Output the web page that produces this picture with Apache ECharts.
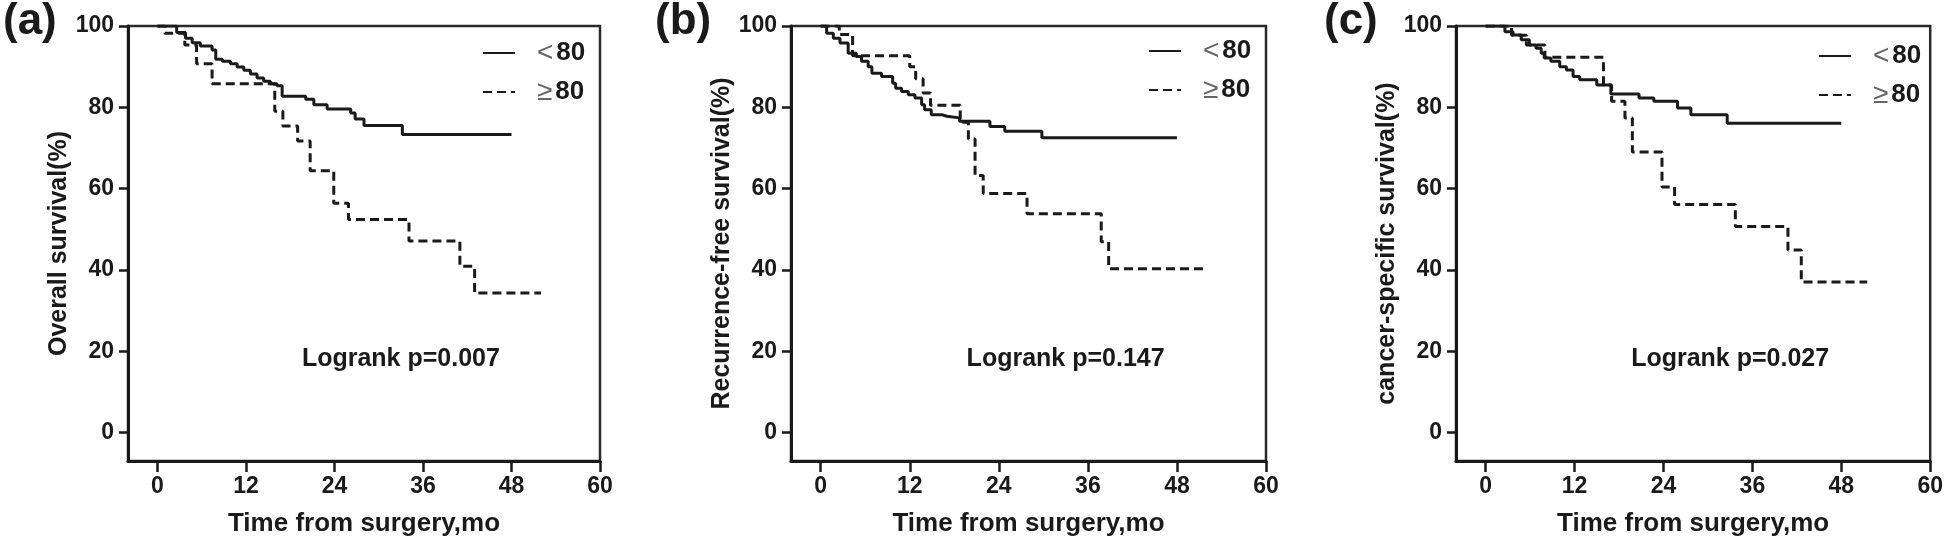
<!DOCTYPE html>
<html>
<head>
<meta charset="utf-8">
<script src="https://cdn.jsdelivr.net/npm/echarts@6/dist/echarts.min.js"></script>
<style>html,body{margin:0;padding:0;background:#fff;}#c{width:1946px;height:546px;}</style>
</head>
<body>
<div id="c"></div>
<script>
// ---- tick labels ----
const xTicks = [0, 12, 24, 36, 48, 60];
const yTicks = [0, 20, 40, 60, 80, 100];
const groupNames = ['<80', '≥80'];
const panelLabels = ['(a)', '(b)', '(c)'];
const yTitles = ['Overall survival(%)', 'Recurrence-free survival(%)', 'cancer-specific survival(%)'];
const xTitle = 'Time from surgery,mo';
const pTexts = ['Logrank p=0.007', 'Logrank p=0.147', 'Logrank p=0.027'];

// ---- (a) overall survival ----
const aLowT = [0, 2.6, 3.8, 4.7, 5.8, 7.4, 7.9, 8.8, 9.9, 10.8, 11.7, 12.6, 13.5, 14.4, 15.3, 16.2, 16.9, 20.1, 21.2, 23.0, 26.2, 26.8, 28.0, 33.2, 48.0];
const aLowS = [100, 98.4, 97.0, 95.9, 95.1, 94.1, 91.8, 91.3, 90.7, 89.9, 89.1, 88.2, 87.2, 86.4, 85.8, 85.3, 82.7, 82.0, 80.6, 79.6, 78.6, 77.1, 75.5, 73.3, 73.3];
const aHighT = [0, 1.0, 3.7, 5.3, 7.4, 15.9, 17.0, 19.0, 20.7, 23.9, 25.9, 34.1, 41.0, 43.0, 52.0];
const aHighS = [100, 98.2, 95.3, 90.7, 85.8, 79.0, 75.4, 71.7, 64.4, 56.4, 52.4, 47.1, 40.9, 34.3, 34.3];

// ---- (b) recurrence-free survival ----
const bLowT = [0, 0.8, 1.7, 2.6, 3.7, 4.8, 5.5, 6.4, 6.9, 8.2, 9.7, 10.1, 10.9, 11.8, 12.7, 13.6, 14.0, 14.9, 16.3, 17.0, 18.7, 22.8, 24.8, 29.8, 48.0];
const bLowS = [100, 98.2, 97.0, 95.8, 93.3, 92.5, 91.3, 90.0, 88.4, 87.6, 85.9, 84.7, 83.9, 83.1, 82.3, 80.6, 79.4, 78.2, 77.8, 77.4, 76.6, 75.3, 74.1, 72.5, 72.5];
const bHighT = [0, 2.5, 4.3, 12.0, 12.8, 13.8, 14.8, 18.8, 19.9, 20.8, 21.9, 27.8, 37.8, 38.8, 51.7];
const bHighS = [100, 97.9, 92.7, 90.0, 87.0, 83.5, 80.5, 76.3, 72.2, 63.2, 58.8, 53.8, 46.9, 40.3, 40.3];

// ---- (c) cancer-specific survival ----
const cLowT = [0, 2.6, 3.7, 4.8, 5.9, 6.8, 7.5, 7.9, 8.8, 10.0, 10.9, 11.8, 12.7, 15.0, 16.9, 20.7, 22.7, 25.9, 27.7, 32.6, 48.0];
const cLowS = [100, 98.6, 97.8, 96.6, 95.3, 94.5, 93.3, 92.1, 91.3, 90.0, 89.2, 87.6, 86.8, 85.5, 83.3, 82.3, 81.5, 79.8, 78.2, 76.1, 76.1];
const cHighT = [0, 3.5, 5.5, 8.0, 15.9, 17.0, 18.8, 19.8, 23.8, 25.5, 33.7, 40.8, 42.6, 51.5];
const cHighS = [100, 97.7, 95.3, 92.3, 85.5, 81.5, 77.4, 69.0, 60.4, 56.1, 50.7, 44.9, 37.0, 37.0];

const panels = [
  [aLowT, aLowS, aHighT, aHighS],
  [bLowT, bLowS, bHighT, bHighS],
  [cLowT, cLowS, cHighT, cHighS]
];

// ---- layout / style ----
const FONT = '"Liberation Sans", Arial, sans-serif';
const INK = '#1a1a1a';
const grids = [
  { left: 128, top: 26, width: 472, height: 435 },
  { left: 791, top: 26, width: 475, height: 435 },
  { left: 1456, top: 26, width: 476, height: 435 }
];
const legendPos = [
  { left: 477, top: 34 },
  { left: 1143, top: 32 },
  { left: 1813, top: 37 }
];
const labelPos = [[3, 0], [655, 0], [1324, 0]];

function zip(t, s) { return t.map((v, i) => [v, s[i]]); }

const option = {
  animation: false,
  backgroundColor: '#fff',
  grid: grids.map(g => Object.assign({ show: true, borderColor: '#2a2a2a', borderWidth: 2.5, backgroundColor: 'transparent' }, g)),
  xAxis: grids.map((g, i) => ({
    type: 'value', gridIndex: i, min: -4, max: 60,
    axisLine: { show: true, onZero: false, lineStyle: { color: INK, width: 3 } },
    axisTick: { show: true, customValues: xTicks, length: 11, lineStyle: { color: INK, width: 2.5 } },
    axisLabel: { customValues: xTicks, color: INK, fontSize: 23, fontWeight: 'bold', fontFamily: FONT, margin: 14 },
    splitLine: { show: false },
    name: xTitle, nameLocation: 'middle', nameGap: 50,
    nameTextStyle: { color: INK, fontSize: 26, fontWeight: 'bold', fontFamily: FONT }
  })),
  yAxis: grids.map((g, i) => ({
    type: 'value', gridIndex: i, min: -7, max: 100,
    axisLine: { show: true, onZero: false, lineStyle: { color: INK, width: 3 } },
    axisTick: { show: true, customValues: yTicks, length: 9, lineStyle: { color: INK, width: 2.5 } },
    axisLabel: { customValues: yTicks, color: INK, fontSize: 23, fontWeight: 'bold', fontFamily: FONT, margin: 14 },
    splitLine: { show: false },
    name: yTitles[i], nameLocation: 'middle', nameGap: 56,
    nameTextStyle: { color: INK, fontSize: 25, fontWeight: 'bold', fontFamily: FONT }
  })),
  legend: legendPos.map(p => ({
    left: p.left, top: p.top, orient: 'vertical',
    data: groupNames, itemWidth: 32, itemHeight: 14, itemGap: 11,
    selectedMode: false,
    itemStyle: { opacity: 0 },
    formatter: name => '{s|' + name.charAt(0) + '}{n|' + name.slice(1) + '}',
    textStyle: {
      rich: {
        s: { fontSize: 28, color: '#666', fontFamily: FONT, padding: [0, 3, 0, 17], lineHeight: 30 },
        n: { fontSize: 26, fontWeight: 'bold', color: INK, fontFamily: FONT, lineHeight: 30 }
      }
    }
  })),
  series: []
};

panels.forEach((p, i) => {
  option.series.push({
    name: groupNames[0], type: 'line', step: 'end', xAxisIndex: i, yAxisIndex: i,
    symbol: 'none', data: zip(p[0], p[1]),
    lineStyle: { color: INK, width: 3, type: 'solid' }, itemStyle: { color: INK }
  });
  option.series.push({
    name: groupNames[1], type: 'line', step: 'end', xAxisIndex: i, yAxisIndex: i,
    symbol: 'none', data: zip(p[2], p[3]),
    lineStyle: { color: INK, width: 3, type: [9, 5] }, itemStyle: { color: INK }
  });
});

const chart = echarts.init(document.getElementById('c'), null, { renderer: 'canvas' });
chart.setOption(option);

// panel letters and log-rank annotations
const graphics = [];
panelLabels.forEach((lab, i) => {
  graphics.push({
    type: 'text', left: labelPos[i][0], top: labelPos[i][1],
    style: { text: lab, font: 'bold 44px ' + FONT, fill: INK }
  });
  const pt = chart.convertToPixel({ gridIndex: i }, [33, 18]);
  graphics.push({
    type: 'text', x: pt[0], y: pt[1],
    style: { text: pTexts[i], font: 'bold 25px ' + FONT, fill: INK, align: 'center', verticalAlign: 'middle' }
  });
});
chart.setOption({ graphic: graphics });
</script>
</body>
</html>
